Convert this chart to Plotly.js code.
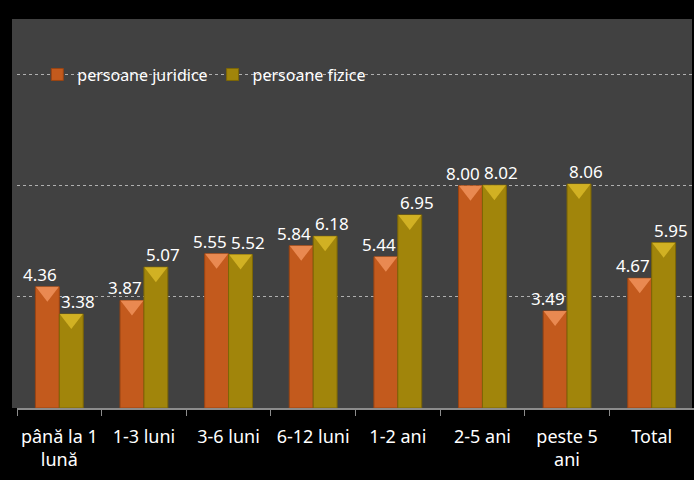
<!DOCTYPE html>
<html>
<head>
<meta charset="utf-8">
<script src="https://cdn.plot.ly/plotly-3.0.1.min.js"></script>
<style>html,body{margin:0;padding:0;background:#000;}#chart{width:694px;height:480px;}</style>
</head>
<body>
<div id="chart"></div>
<script>
const categories = ["până la 1<br>lună", "1-3 luni", "3-6 luni", "6-12 luni", "1-2 ani", "2-5 ani", "peste 5<br>ani", "Total"];
const seriesNames = ["persoane juridice", "persoane fizice"];
const juridice = [4.36, 3.87, 5.55, 5.84, 5.44, 8.00, 3.49, 4.67];
const fizice = [3.38, 5.07, 5.52, 6.18, 6.95, 8.02, 8.06, 5.95];
const gridValues = [4, 8, 12];

const FONT = "Noto Sans, DejaVu Sans, sans-serif";
const barColors = ["#c35a1d", "#a1850b"];
const edgeColors = ["#9a4412", "#7d6606"];
const capColors = ["#f0925a", "#d9b928"];

function barTrace(name, vals, i) {
  return {
    type: "bar", name: name, x: categories, y: vals,
    offsetgroup: String(i),
    marker: {color: barColors[i], line: {color: edgeColors[i], width: 1}},
    hoverinfo: "x+y"
  };
}
function capTrace(vals, i) {
  return {
    type: "scatter", mode: "markers", x: categories, y: vals,
    yaxis: "y2", offsetgroup: String(i), showlegend: false, hoverinfo: "skip",
    marker: {symbol: "triangle-down", size: 20, color: capColors[i], opacity: 0.85, line: {width: 0}},
    cliponaxis: false
  };
}
function labelAnnotations(vals, anchor) {
  return vals.map((v, k) => ({
    x: categories[k], y: v, xref: "x", yref: "y",
    text: v.toFixed(2), showarrow: false,
    xanchor: anchor, yanchor: "bottom", yshift: -1,
    font: {family: FONT, size: 17, color: "#ffffff"}
  }));
}

const data = [
  barTrace(seriesNames[0], juridice, 0),
  barTrace(seriesNames[1], fizice, 1),
  capTrace(juridice, 0),
  capTrace(fizice, 1)
];

const layout = {
  width: 694, height: 480,
  margin: {l: 17, r: 0, t: 19, b: 72},
  paper_bgcolor: "#000000",
  plot_bgcolor: "rgba(0,0,0,0)",
  barmode: "group", bargap: 0.435, bargroupgap: 0,
  scattermode: "group", scattergap: 0.435,
  showlegend: true,
  legend: {
    orientation: "h", x: 0.03, xanchor: "left", y: 12/14, yanchor: "middle",
    bgcolor: "rgba(0,0,0,0)", font: {family: FONT, size: 16, color: "#ffffff"},
    itemwidth: 30, tracegroupgap: 0
  },
  xaxis: {
    type: "category", showline: true, linecolor: "#8c8c8c", linewidth: 2,
    ticks: "outside", tickson: "boundaries", ticklen: 6, tickcolor: "#8c8c8c", tickwidth: 1,
    tickfont: {family: FONT, size: 18, color: "#ffffff"}, tickangle: 0, ticklabelstandoff: 11,
    showgrid: false, zeroline: false, fixedrange: true
  },
  yaxis: {
    range: [0, 14], tickvals: gridValues, showticklabels: false, ticks: "",
    showgrid: true, gridcolor: "#b0b0b0", griddash: "dot", gridwidth: 1,
    zeroline: false, showline: false, fixedrange: true
  },
  yaxis2: {
    overlaying: "y", range: [0.18, 14.18], visible: false, showgrid: false, fixedrange: true
  },
  annotations: labelAnnotations(juridice, "right").concat(labelAnnotations(fizice, "left")),
  shapes: [{
    type: "rect", xref: "paper", yref: "paper", layer: "below",
    x0: -5/677, x1: 675/677, y0: 0, y1: 1,
    fillcolor: "#414141", line: {width: 0}
  }]
};

Plotly.newPlot("chart", data, layout, {displayModeBar: false, staticPlot: true});
</script>
</body>
</html>
